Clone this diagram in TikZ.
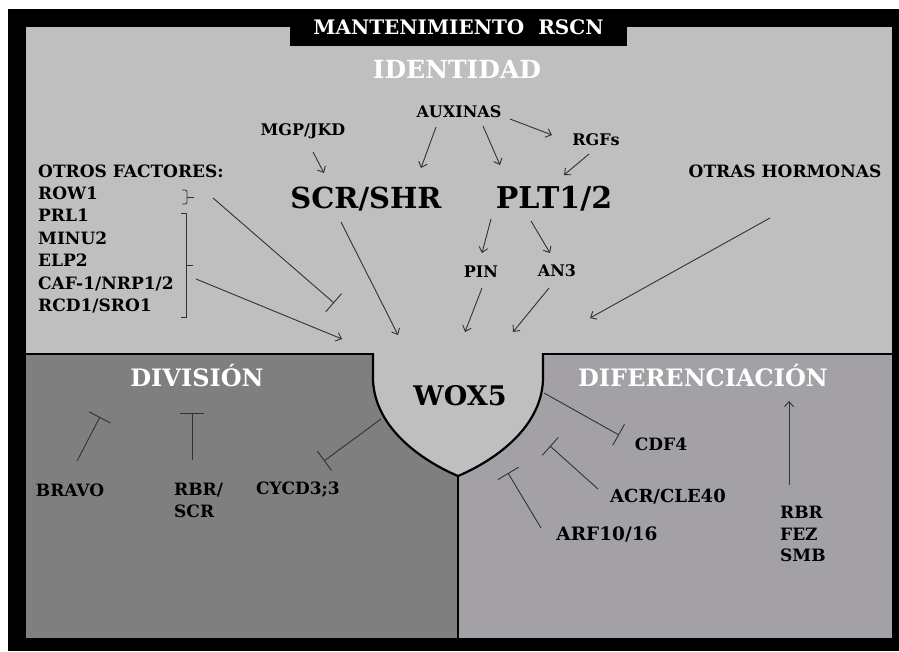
\documentclass[tikz,border=0pt]{standalone}
\usepackage{fontspec}
\setmainfont{DejaVu Serif}
\usepackage{tikz}
\usetikzlibrary{arrows.meta,calc}
\definecolor{fondoclaro}{RGB}{191,191,191}
\definecolor{fondooscuro}{RGB}{127,127,127}
\definecolor{fondomedio}{RGB}{163,161,165}
\definecolor{trazo}{RGB}{50,50,50}

\begin{document}
\begin{tikzpicture}[x=1pt, y=-1pt,
    lbl/.style={font=\bfseries\fontsize{16}{20}\selectfont, inner sep=0pt, anchor=base},
    lblf/.style={font=\bfseries\fontsize{17}{20}\selectfont, inner sep=0pt, anchor=base west},
    lblb/.style={font=\bfseries\fontsize{17}{21.5}\selectfont, inner sep=0pt, anchor=base},
    gene/.style={font=\bfseries\fontsize{29}{32}\selectfont, inner sep=0pt, anchor=base},
    zona/.style={font=\bfseries\fontsize{24}{26}\selectfont, text=white, inner sep=0pt, anchor=base},
    act/.style={-{Straight Barb[length=5pt,width=9pt]}, line width=0.9pt, trazo},
    inh/.style={-{Bar[width=24pt]}, line width=0.9pt, trazo},
    borde/.style={line width=2pt, black}
]
\useasboundingbox (0,0) rectangle (899,651);

% marco y zonas
\fill[white] (0,0) rectangle (899,651);
\fill[black] (8,9) rectangle (899,651);
\fill[fondoclaro] (26,27) rectangle (892,354);
\fill[fondooscuro] (26,354) rectangle (458,638);
\fill[fondomedio] (458,354) rectangle (892,638);
\draw[borde] (26,354) -- (374,354);
\draw[borde] (542,354) -- (892,354);
\draw[line width=2.5pt] (458,470) -- (458,638);
\filldraw[fill=fondoclaro, draw=black, line width=2.2pt]
    (373,353) -- (373,380) .. controls (375,430) and (425,462) .. (458,476)
    .. controls (491,462) and (541,430) .. (543,380) -- (543,353);

% titulos
\node[fill=black, text=white, font=\bfseries\fontsize{20}{22}\selectfont,
      minimum width=337, minimum height=37, inner sep=0pt] (titulo) at (458.5,27.5) {MANTENIMIENTO\hspace{0.7em}RSCN};
\node[zona, font=\bfseries\fontsize{25}{28}\selectfont] (identidad) at (457,78) {IDENTIDAD};
\node[zona] (division) at (197,386) {DIVISIÓN};
\node[zona] (diferenciacion) at (703,386) {DIFERENCIACIÓN};

% identidad
\node[lbl] (auxinas) at (459,117) {AUXINAS};
\node[lbl] (mgp) at (303,135) {MGP/JKD};
\node[lbl] (rgfs) at (596,145) {RGFs};
\node[gene] (scr) at (366,208) {SCR/SHR};
\node[gene, font=\bfseries\fontsize{30}{32}\selectfont] (plt) at (554,208) {PLT1/2};
\node[lbl] (pin) at (481,277) {PIN};
\node[lbl] (an3) at (557,276) {AN3};
\node[lbl, font=\bfseries\fontsize{17}{20}\selectfont] (otras) at (785,177) {OTRAS HORMONAS};
\node[gene, font=\bfseries\fontsize{27}{30}\selectfont] (wox) at (460,405) {WOX5};

% otros factores
\node[lblf] (factores) at (38,177) {OTROS FACTORES:};
\node[lblf] (row) at (38,199.4) {ROW1};
\node[lblf] (prl) at (38,221.8) {PRL1};
\node[lblf] (minu) at (38,244.2) {MINU2};
\node[lblf] (elp) at (38,266.6) {ELP2};
\node[lblf] (caf) at (38,289) {CAF-1/NRP1/2};
\node[lblf] (rcd) at (38,311.4) {RCD1/SRO1};
\coordinate (llaverow) at (187,197);
\coordinate (llave) at (186,265);
\draw[trazo, line width=0.8pt, rounded corners=2pt] (182,190) -- (187,190) -- (llaverow) -- (187,204) -- (182,204);
\draw[trazo, line width=0.8pt] (llaverow) -- ++(7,0);
\draw[trazo, line width=0.8pt] (181,213) -- (186,213) -- (186,317) -- (181,317);
\draw[trazo, line width=0.8pt] (llave) -- ++(7,0);

% division y diferenciacion
\node[lblb] (bravo) at (70,496) {BRAVO};
\node[lblb, anchor=north west, align=left] (rbrscr) at (174,483) {RBR/\\SCR};
\node[lblb] (cycd) at (298,494) {CYCD3;3};
\node[lblb] (cdf) at (661,450) {CDF4};
\node[lblb, font=\bfseries\fontsize{18}{20}\selectfont] (acr) at (668,502) {ACR/CLE40};
\node[lblb, font=\bfseries\fontsize{18.5}{20}\selectfont] (arf) at (607,540) {ARF10/16};
\node[lblb, anchor=north west, align=left] (rbrfez) at (780,506) {RBR\\FEZ\\SMB};

% activaciones
\draw[act] ([shift={(10,17)}]mgp.base) -- ([shift={(-42,-35)}]scr.base);
\draw[act] ([shift={(-23,10)}]auxinas.base) -- ([shift={(55,-40)}]scr.base);
\draw[act] ([shift={(24,9)}]auxinas.base) -- ([shift={(-54,-43)}]plt.base);
\draw[act] ([shift={(51,2)}]auxinas.base) -- ([shift={(-44,-10)}]rgfs.base);
\draw[act] ([shift={(-7,9)}]rgfs.base) -- ([shift={(10,-33)}]plt.base);
\draw[act] ([shift={(-63,11)}]plt.base) -- ([shift={(1,-24)}]pin.base);
\draw[act] ([shift={(-23,13)}]plt.base) -- ([shift={(-7,-23)}]an3.base);
\draw[act] ([shift={(1,11)}]pin.base) -- ([shift={(5,-73)}]wox.base);
\draw[act] ([shift={(-8,12)}]an3.base) -- ([shift={(53,-73)}]wox.base);
\draw[act] ([shift={(-15,41)}]otras.base) -- ([shift={(130,-87)}]wox.base);
\draw[act] ([shift={(-25,14)}]scr.base) -- ([shift={(-62,-70)}]wox.base);
\draw[act] ([shift={(10,14)}]llave) -- ([shift={(-118,-66)}]wox.base);
\draw[act] ([shift={(9,-21)}]rbrfez.north west) -- ([shift={(86,15)}]diferenciacion.base);

% inhibiciones
\draw[inh] ([shift={(26,1)}]llaverow) -- ([shift={(-126,-102)}]wox.base);
\draw[inh] ([shift={(7,-35)}]bravo.base) -- ([shift={(30,-79)}]bravo.base);
\draw[inh] ([shift={(18,-23)}]rbrscr.north west) -- ([shift={(18,-70)}]rbrscr.north west);
\draw[inh] ([shift={(-79,14)}]wox.base) -- ([shift={(26,-33)}]cycd.base);
\draw[inh] ([shift={(84,-12)}]wox.base) -- ([shift={(-42,-15)}]cdf.base);
\draw[inh] ([shift={(-70,-13)}]acr.base) -- ([shift={(90,41)}]wox.base);
\draw[inh] ([shift={(-66,-12)}]arf.base) -- ([shift={(48,68)}]wox.base);

\end{tikzpicture}
\end{document}
